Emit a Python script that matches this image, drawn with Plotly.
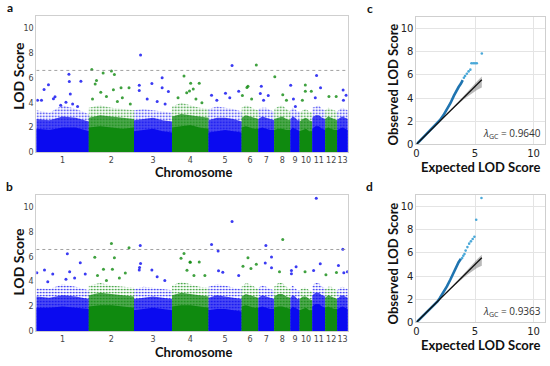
import plotly.graph_objects as go

W, H = 550, 366

# ---------------- data ----------------
chrom_names = [str(i) for i in range(1, 14)]
chrom_len = [52.8, 45.4, 38.3, 36.7, 33.3, 16.7, 16.0, 16.3, 9.3, 12.7, 13.0, 12.0, 10.7]
threshold = 6.6

# envelope of the dense point cloud, sampled at fractions along each chromosome
env_frac = [0.0, 0.25, 0.5, 0.75, 1.0]
a_core = [[1.9, 1.8, 2.0, 2.0, 1.7], [2.0, 2.1, 2.0, 1.9, 2.0], [1.7, 1.8, 1.9, 1.7, 1.6],
          [2.0, 2.1, 2.2, 2.0, 1.9], [1.6, 1.7, 1.8, 1.7, 1.6], [2.0, 2.1, 2.0, 1.9, 1.9],
          [1.9, 2.0, 1.9, 1.8, 1.8], [1.8, 1.9, 1.9, 1.8, 1.8], [1.8, 2.0, 1.9, 1.8, 1.7],
          [1.7, 1.8, 1.9, 1.7, 1.7], [1.9, 2.1, 2.1, 1.9, 1.8], [1.9, 2.0, 1.9, 1.8, 1.8],
          [1.8, 1.9, 2.0, 1.9, 1.8]]
a_mid = [[2.7, 2.6, 2.9, 2.8, 2.5], [2.8, 3.0, 2.9, 2.8, 2.7], [2.6, 2.7, 2.8, 2.6, 2.5],
         [2.9, 3.1, 3.0, 2.9, 2.8], [2.6, 2.8, 2.8, 2.7, 2.5], [2.8, 3.0, 2.9, 2.8, 2.7],
         [2.7, 2.9, 2.8, 2.7, 2.6], [2.7, 2.8, 2.9, 2.7, 2.6], [2.7, 2.9, 2.8, 2.6, 2.6],
         [2.5, 2.7, 2.8, 2.6, 2.5], [2.8, 3.0, 3.0, 2.8, 2.7], [2.7, 2.9, 2.8, 2.7, 2.6],
         [2.6, 2.8, 2.9, 2.8, 2.7]]
a_outer = [[3.4, 3.2, 3.8, 3.5, 3.1], [3.6, 3.8, 3.6, 3.5, 3.4], [3.4, 3.5, 3.4, 3.3, 3.2],
           [3.7, 4.0, 3.8, 3.6, 3.5], [3.5, 3.7, 3.6, 3.5, 3.3], [3.6, 3.8, 3.7, 3.5, 3.4],
           [3.5, 3.6, 3.6, 3.4, 3.3], [3.5, 3.7, 3.8, 3.5, 3.3], [3.4, 3.6, 3.5, 3.3, 3.3],
           [3.2, 3.4, 3.5, 3.3, 3.2], [3.6, 3.7, 3.8, 3.5, 3.4], [3.4, 3.6, 3.5, 3.4, 3.3],
           [3.3, 3.5, 3.6, 3.5, 3.4]]

b_core = [[1.9, 1.9, 2.0, 1.9, 1.8], [2.0, 2.1, 2.1, 2.0, 1.9], [1.7, 1.8, 1.9, 1.8, 1.7],
          [2.0, 2.1, 2.1, 2.0, 1.9], [1.7, 1.8, 1.8, 1.7, 1.6], [2.0, 2.1, 2.0, 1.9, 1.9],
          [1.9, 2.0, 1.9, 1.8, 1.8], [1.9, 2.0, 2.0, 1.9, 1.8], [1.8, 2.0, 1.9, 1.8, 1.7],
          [1.7, 1.8, 1.9, 1.7, 1.7], [2.0, 2.2, 2.2, 2.0, 1.9], [1.9, 2.0, 1.9, 1.8, 1.8],
          [1.8, 1.9, 2.0, 1.9, 1.8]]
b_mid = [[2.8, 2.7, 2.9, 2.8, 2.6], [2.9, 3.1, 3.0, 2.9, 2.8], [2.6, 2.7, 2.8, 2.7, 2.6],
         [2.9, 3.1, 3.0, 2.9, 2.8], [2.7, 2.9, 2.8, 2.7, 2.6], [2.8, 3.0, 2.9, 2.8, 2.7],
         [2.7, 2.9, 2.8, 2.7, 2.6], [2.8, 3.0, 3.0, 2.8, 2.7], [2.7, 2.9, 2.8, 2.6, 2.6],
         [2.6, 2.8, 2.8, 2.6, 2.5], [2.9, 3.1, 3.1, 2.9, 2.8], [2.7, 2.9, 2.8, 2.7, 2.6],
         [2.6, 2.8, 2.9, 2.8, 2.7]]
b_outer = [[3.5, 3.4, 3.8, 3.6, 3.3], [3.7, 3.9, 3.7, 3.6, 3.5], [3.4, 3.6, 3.5, 3.4, 3.3],
           [3.7, 4.0, 3.8, 3.6, 3.5], [3.6, 3.8, 3.7, 3.5, 3.4], [3.6, 3.9, 3.8, 3.6, 3.4],
           [3.5, 3.7, 3.6, 3.4, 3.3], [3.6, 3.9, 3.9, 3.6, 3.4], [3.5, 3.7, 3.5, 3.3, 3.3],
           [3.3, 3.5, 3.5, 3.3, 3.2], [3.7, 3.9, 3.9, 3.6, 3.5], [3.4, 3.6, 3.6, 3.4, 3.3],
           [3.3, 3.5, 3.6, 3.5, 3.4]]

# individual points above the dense cloud: chromosome, position within chromosome, LOD
a_out_chr = [1, 1, 1, 1, 1, 1, 1, 1, 1, 1, 1, 1, 1, 1,
             2, 2, 2, 2, 2, 2, 2, 2, 2, 2, 2, 2, 2, 2, 2,
             3, 3, 3, 3, 3, 3, 3, 3, 3, 3,
             4, 4, 4, 4, 4, 4, 4, 4, 4,
             5, 5, 5, 5, 5, 5,
             6, 6, 6, 6, 6,
             7, 7, 7, 7,
             8, 8, 8,
             9, 9, 9,
             10, 10, 10, 10,
             11, 11, 11,
             12, 12,
             13, 13, 13]
a_out_pos = [32.8, 44.8, 33.2, 12.2, 7.8, 18.8, 17.2, 5.2, 34.2, 29.8, 1.2, 36.5, 24.5, 41.5,
             3.0, 14.4, 22.7, 25.7, 7.7, 6.4, 32.4, 40.4, 24.7, 12.0, 17.7, 33.7, 28.7, 3.7, 41.7,
             6.6, 5.3, 18.0, 28.3, 28.3, 34.6, 5.3, 13.3, 23.3, 31.3,
             12.0, 18.7, 14.7, 21.3, 27.3, 17.5, 6.0, 24.0, 30.0,
             23.6, 3.0, 17.0, 30.3, 8.3, 21.3,
             14.7, 6.3, 5.3, 0.7, 10.0,
             3.0, 2.0, 10.0, 5.3,
             0.6, 8.6, 12.3,
             0.3, 5.0, 3.0,
             5.7, 5.7, 11.7, 2.7,
             4.3, 8.3, 3.0,
             3.7, 11.0,
             6.0, 6.3, 9.0]
a_out_lod = [6.29, 5.73, 5.70, 5.44, 5.07, 4.48, 4.32, 4.20, 4.71, 4.04, 4.20, 3.90, 3.80, 3.70,
             6.68, 6.39, 6.55, 6.27, 5.78, 5.50, 5.20, 5.20, 5.05, 4.85, 4.50, 4.40, 4.10, 4.30, 3.90,
             7.85, 5.41, 5.54, 6.02, 5.20, 4.90, 4.98, 4.30, 4.10, 3.90,
             6.15, 5.56, 4.80, 5.10, 5.56, 4.95, 4.40, 4.30, 4.00,
             7.00, 4.61, 4.77, 4.92, 4.20, 4.40,
             7.03, 5.33, 5.22, 4.58, 4.30,
             5.33, 4.74, 4.58, 4.20,
             6.10, 4.64, 4.20,
             5.40, 3.70, 4.30,
             5.43, 4.92, 4.92, 4.20,
             6.20, 5.20, 4.40,
             4.50, 4.50,
             5.03, 4.20, 4.60]

b_out_chr = [1, 1, 1, 1, 1, 1, 1, 1, 1, 1,
             2, 2, 2, 2, 2, 2, 2, 2, 2, 2,
             3, 3, 3, 3, 3, 3, 3,
             4, 4, 4, 4, 4, 4, 4, 4,
             5, 5, 5, 5, 5, 5,
             6, 6, 6, 6,
             7, 7, 7, 7,
             8, 8,
             9, 9, 9,
             10,
             11, 11, 11,
             12, 12,
             13, 13, 13, 13]
b_out_pos = [31.2, 44.2, 0.5, 8.2, 16.5, 33.5, 49.2, 29.8, 11.5, 38.5,
             22.7, 40.4, 6.0, 25.7, 14.7, 23.7, 36.7, 8.7, 30.7, 17.7,
             6.3, 6.6, 5.6, 5.3, 18.0, 31.0, 23.3,
             12.0, 9.0, 18.3, 15.0, 18.0, 27.3, 22.0, 33.0,
             23.6, 3.0, 9.6, 14.3, 10.0, 30.3,
             6.3, 9.3, 14.7, 1.3,
             7.6, 13.3, 7.0, 13.3,
             8.6, 5.3,
             1.0, 1.0, 5.7,
             5.4,
             4.0, 8.0, 1.3,
             0.7, 11.3,
             5.7, 1.3, 6.7, 10.3]
b_out_lod = [6.26, 5.52, 4.72, 4.94, 4.63, 4.81, 4.63, 4.20, 4.00, 4.30,
             7.08, 6.74, 5.97, 5.94, 5.00, 5.00, 4.70, 4.50, 4.30, 4.10,
             6.92, 5.47, 5.15, 4.94, 4.94, 4.10, 4.40,
             6.28, 5.90, 5.58, 4.92, 5.60, 5.60, 4.50, 4.50,
             8.86, 7.00, 6.47, 4.76, 4.88, 4.50,
             5.94, 5.07, 5.40, 5.25,
             6.92, 5.99, 5.50, 5.12,
             7.40, 4.80,
             4.90, 4.65, 5.20,
             4.80,
             10.74, 5.44, 4.90,
             4.55, 4.75,
             6.63, 5.30, 4.72, 4.80]

# QQ plots
c_exp = [0, 0.5, 1.0, 1.5, 1.8, 2.0, 2.3, 2.6, 2.9, 3.2, 3.4, 3.6, 3.8, 3.95]
c_obs = [0, 0.5, 1.0, 1.5, 1.82, 2.08, 2.5, 3.0, 3.55, 4.2, 4.6, 4.95, 5.25, 5.55]
c_tail_exp = [4.05, 4.15, 4.3, 4.45, 4.6, 4.7, 4.85, 5.0, 5.15, 5.58]
c_tail_obs = [5.75, 5.9, 6.1, 6.3, 6.45, 7.0, 7.0, 7.0, 7.0, 7.85]
c_lambda = "0.9640"

d_exp = [0, 0.5, 1.0, 1.5, 1.8, 2.0, 2.3, 2.6, 2.9, 3.2, 3.4, 3.6, 3.8]
d_obs = [0, 0.5, 1.0, 1.5, 1.8, 2.1, 2.55, 3.1, 3.7, 4.4, 4.8, 5.2, 5.5]
d_tail_exp = [3.9, 4.0, 4.1, 4.2, 4.35, 4.5, 4.65, 4.8, 4.95, 5.1, 5.55]
d_tail_obs = [5.55, 5.75, 5.9, 6.2, 6.5, 6.8, 7.0, 7.2, 7.4, 8.86, 10.74]
d_lambda = "0.9363"

null_x = [0, 5.58]
band_x = [2.8, 3.2, 3.6, 4.0, 4.4, 4.8, 5.2, 5.58]
band_lo = [2.78, 3.14, 3.5, 3.84, 4.16, 4.46, 4.72, 4.9]
band_hi = [2.82, 3.27, 3.72, 4.18, 4.62, 5.06, 5.48, 5.85]

# ---------------- styling ----------------
BLUE = (10, 10, 240)
GREEN = (15, 138, 15)
QQ_BLUE = "#1f74b0"
QQ_TAIL = "#4aa8d8"
TITLE_FONT = "Lato"
TICK_FONT = "DejaVu Sans"


def rgba(c, a):
    return "rgba(%d,%d,%d,%.2f)" % (c[0], c[1], c[2], a)


offsets = []
acc = 0.0
for L in chrom_len:
    offsets.append(acc)
    acc += L
total_len = acc
centers = [o + L / 2 for o, L in zip(offsets, chrom_len)]

fig = go.Figure()


def manhattan(core, mid, outer, out_chr, out_pos, out_lod, xa, ya):
    for i in range(len(chrom_len)):
        col = BLUE if i % 2 == 0 else GREEN
        xs = [offsets[i] + f * chrom_len[i] for f in env_frac]
        for env, sol, sz in ((outer[i], 0.25, 3), (mid[i], 0.75, 2)):
            fig.add_trace(go.Scatter(
                x=xs, y=env, mode="lines", line=dict(width=0),
                fill="tozeroy", fillcolor=rgba(col, 1.0),
                fillpattern=dict(shape=".", size=sz, solidity=sol,
                                 fgcolor=rgba(col, 1.0), bgcolor="rgba(255,255,255,0)",
                                 fillmode="replace"),
                xaxis=xa, yaxis=ya, hoverinfo="skip", showlegend=False))
        fig.add_trace(go.Scatter(
            x=xs, y=core[i], mode="lines", line=dict(width=0),
            fill="tozeroy", fillcolor=rgba(col, 1.0),
            xaxis=xa, yaxis=ya, hoverinfo="skip", showlegend=False))
    for parity, col in ((1, BLUE), (0, GREEN)):
        xs, ys = [], []
        for c, p, v in zip(out_chr, out_pos, out_lod):
            if c % 2 == parity:
                xs.append(offsets[c - 1] + p)
                ys.append(v)
        fig.add_trace(go.Scatter(
            x=xs, y=ys, mode="markers",
            marker=dict(size=3.0, color=rgba(col, 0.8), line=dict(width=0)),
            xaxis=xa, yaxis=ya, showlegend=False))
    fig.add_trace(go.Scatter(
        x=[0, total_len], y=[threshold, threshold], mode="lines",
        line=dict(color="#8a8a8a", width=0.8, dash="dot"),
        xaxis=xa, yaxis=ya, showlegend=False))


def qq(ex, ob, tex, tob, xa, ya):
    fig.add_trace(go.Scatter(
        x=band_x + band_x[::-1], y=band_hi + band_lo[::-1], fill="toself",
        fillcolor="rgba(140,140,140,0.6)", line=dict(width=0), mode="lines",
        xaxis=xa, yaxis=ya, showlegend=False))
    fig.add_trace(go.Scatter(
        x=ex, y=ob, mode="lines", line=dict(color=QQ_BLUE, width=2.6),
        xaxis=xa, yaxis=ya, showlegend=False))
    fig.add_trace(go.Scatter(
        x=tex, y=tob, mode="markers",
        marker=dict(size=2.6, color=QQ_TAIL, line=dict(width=0)),
        xaxis=xa, yaxis=ya, showlegend=False))
    fig.add_trace(go.Scatter(
        x=null_x, y=null_x, mode="lines", line=dict(color="#111111", width=1.3),
        xaxis=xa, yaxis=ya, showlegend=False))


manhattan(a_core, a_mid, a_outer, a_out_chr, a_out_pos, a_out_lod, "x", "y")
manhattan(b_core, b_mid, b_outer, b_out_chr, b_out_pos, b_out_lod, "x2", "y2")
qq(c_exp, c_obs, c_tail_exp, c_tail_obs, "x3", "y3")
qq(d_exp, d_obs, d_tail_exp, d_tail_obs, "x4", "y4")


def px_x(p):
    return p / W


def px_y(p):
    return 1 - p / H


man_x = dict(range=[0, total_len], tickvals=centers, ticktext=chrom_names, tickangle=0,
             showgrid=False, zeroline=False, showline=True, mirror=True,
             linecolor="#cfcfcf", linewidth=1, ticks="",
             tickfont=dict(family=TICK_FONT, size=8, color="#444444"))
man_y = dict(range=[0, 11], tickvals=[0, 2, 4, 6, 8, 10],
             showgrid=False, zeroline=False, showline=True, mirror=True,
             linecolor="#cfcfcf", linewidth=1, ticks="",
             tickfont=dict(family=TICK_FONT, size=8, color="#444444"))
qq_x = dict(range=[0, 11], tickvals=[0, 5, 10], tickangle=0, showgrid=True, gridcolor="#e4e4e4",
            zeroline=False, showline=True, mirror=True, linecolor="#cfcfcf",
            linewidth=1, ticks="", tickfont=dict(family=TICK_FONT, size=10, color="#222222"))
qq_y = dict(range=[0, 11], tickvals=[0, 2, 4, 6, 8, 10], showgrid=True, gridcolor="#e4e4e4",
            zeroline=False, showline=True, mirror=True, linecolor="#cfcfcf",
            linewidth=1, ticks="", tickfont=dict(family=TICK_FONT, size=10, color="#222222"))

fig.update_layout(
    width=W, height=H, margin=dict(l=0, r=0, t=0, b=0),
    paper_bgcolor="white", plot_bgcolor="white", showlegend=False,
    xaxis=dict(man_x, domain=[px_x(33.5), px_x(346.7)], anchor="y"),
    yaxis=dict(man_y, domain=[px_y(155), px_y(16)], anchor="x"),
    xaxis2=dict(man_x, domain=[px_x(33.5), px_x(346.7)], anchor="y2"),
    yaxis2=dict(man_y, domain=[px_y(336.7), px_y(198.3)], anchor="x2"),
    xaxis3=dict(qq_x, domain=[px_x(415.7), px_x(545.3)], anchor="y3"),
    yaxis3=dict(qq_y, domain=[px_y(146.7), px_y(17.3)], anchor="x3"),
    xaxis4=dict(qq_x, domain=[px_x(415.7), px_x(545.3)], anchor="y4"),
    yaxis4=dict(qq_y, domain=[px_y(327.7), px_y(198.3)], anchor="x4"),
)

ann = []


def label(text, x, y, size, angle=0, xanchor="center", family=TITLE_FONT, color="#111111"):
    ann.append(dict(text=text, x=px_x(x), y=px_y(y), xref="paper", yref="paper",
                    showarrow=False, textangle=angle, xanchor=xanchor, yanchor="middle",
                    font=dict(family=family, size=size, color=color)))


label("<b>a</b>", 7, 8, 12)
label("<b>b</b>", 7, 190, 12)
label("<b>c</b>", 369, 9, 12)
label("<b>d</b>", 369, 190, 12)
label("<b>LOD Score</b>", 16, 77, 14, angle=-90)
label("<b>LOD Score</b>", 16, 266, 14, angle=-90)
label("<b>Chromosome</b>", 192, 175, 13)
label("<b>Chromosome</b>", 192, 357.5, 13)
label("<b>Observed LOD Score</b>", 392, 86, 13, angle=-90)
label("<b>Observed LOD Score</b>", 392, 268, 13, angle=-90)
label("<b>Expected LOD Score</b>", 480, 170, 13)
label("<b>Expected LOD Score</b>", 480, 351, 13)
label("<i>λ</i><sub>GC</sub> = " + c_lambda, 543, 136, 10, xanchor="right", family="Open Sans", color="#333333")
label("<i>λ</i><sub>GC</sub> = " + d_lambda, 543, 317, 10, xanchor="right", family="Open Sans", color="#333333")
fig.update_layout(annotations=ann)

fig.write_html("out.html", config={"displayModeBar": False},
               post_script="document.body.style.margin='0px';")
